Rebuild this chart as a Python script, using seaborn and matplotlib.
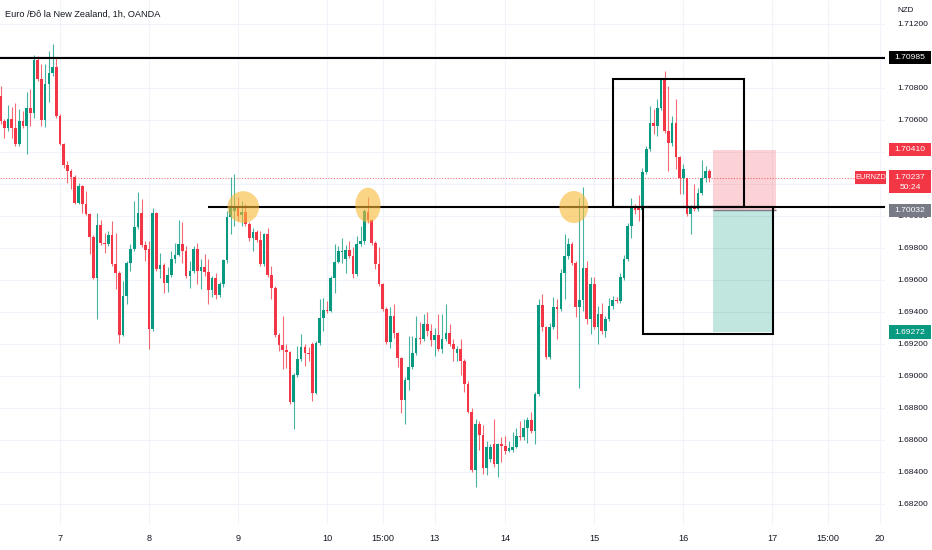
import matplotlib
matplotlib.use("Agg")
import matplotlib.pyplot as plt
from matplotlib.patches import Rectangle, Ellipse
from matplotlib.transforms import blended_transform_factory
import numpy as np
import pandas as pd
import seaborn as sns

# Bougies 1h EUR/NZD (ouverture, plus haut, plus bas, cloture)
opens = [
    1.70747, 1.70590, 1.70546, 1.70603, 1.70546, 1.70446, 1.70590, 1.70559, 1.70671, 1.70640,
    1.70972, 1.70853, 1.70596, 1.70822, 1.70890, 1.70928, 1.70621, 1.70446, 1.70315, 1.70277,
    1.70240, 1.70077, 1.70183, 1.70071, 1.70008, 1.69864, 1.69608, 1.69939, 1.69827, 1.69820,
    1.69877, 1.69695, 1.69639, 1.69251, 1.69495, 1.69701, 1.69789, 1.69927, 1.70014, 1.69814,
    1.69789, 1.69288, 1.70014, 1.69664, 1.69689, 1.69576, 1.69626, 1.69726, 1.69751, 1.69820,
    1.69776, 1.69620, 1.69651, 1.69789, 1.69651, 1.69676, 1.69645, 1.69532, 1.69608, 1.69501,
    1.69570, 1.69720, 1.69989, 1.70027, 1.70046, 1.70002, 1.70021, 1.69945, 1.69858, 1.69895,
    1.69845, 1.69695, 1.69883, 1.69626, 1.69545, 1.69251, 1.69188, 1.69157, 1.69144, 1.68832,
    1.69001, 1.69101, 1.69176, 1.69138, 1.69195, 1.68888, 1.69201, 1.69357, 1.69407, 1.69401,
    1.69608, 1.69708, 1.69770, 1.69726, 1.69783, 1.69745, 1.69633, 1.69820, 1.69839, 1.70021,
    1.69971, 1.69827, 1.69695, 1.69570, 1.69414, 1.69207, 1.69370, 1.69263, 1.69107, 1.68850,
    1.68975, 1.69051, 1.69138, 1.69232, 1.69226, 1.69320, 1.69276, 1.69220, 1.69251, 1.69163,
    1.69226, 1.69263, 1.69195, 1.69138, 1.69163, 1.69088, 1.68950, 1.68775, 1.68412, 1.68700,
    1.68631, 1.68419, 1.68481, 1.68569, 1.68444, 1.68569, 1.68562, 1.68531, 1.68537, 1.68556,
    1.68619, 1.68613, 1.68675, 1.68719, 1.68656, 1.68882, 1.69439, 1.69301, 1.69113, 1.69301,
    1.69426, 1.69414, 1.69639, 1.69745, 1.69820, 1.69701, 1.69426, 1.69470, 1.69670, 1.69351,
    1.69570, 1.69301, 1.69382, 1.69276, 1.69351, 1.69432, 1.69470, 1.69464, 1.69608, 1.69726,
    1.69933, 1.70052, 1.70046, 1.70033, 1.70271, 1.70415, 1.70578, 1.70559, 1.70671, 1.70847,
    1.70528, 1.70452, 1.70578, 1.70365, 1.70233, 1.70233, 1.70008, 1.70052, 1.70039, 1.70140,
    1.70233, 1.70277,
]
highs = [
    1.70809, 1.70603, 1.70690, 1.70678, 1.70703, 1.70665, 1.70653, 1.70772, 1.70790, 1.71003,
    1.70997, 1.70947, 1.70947, 1.71028, 1.71072, 1.70984, 1.70634, 1.70452, 1.70340, 1.70290,
    1.70252, 1.70202, 1.70190, 1.70152, 1.70014, 1.69877, 1.70014, 1.69971, 1.69889, 1.69902,
    1.69964, 1.69889, 1.69651, 1.69589, 1.69714, 1.69820, 1.70089, 1.70146, 1.70102, 1.69839,
    1.69839, 1.70046, 1.70021, 1.69764, 1.69701, 1.69676, 1.69776, 1.69827, 1.69971, 1.69958,
    1.69808, 1.69714, 1.69808, 1.69827, 1.69726, 1.69758, 1.69726, 1.69620, 1.69639, 1.69583,
    1.69726, 1.70027, 1.70240, 1.70258, 1.70114, 1.70089, 1.70071, 1.69958, 1.69920, 1.69908,
    1.69902, 1.69889, 1.69920, 1.69683, 1.69557, 1.69263, 1.69370, 1.69195, 1.69151, 1.69013,
    1.69182, 1.69257, 1.69195, 1.69176, 1.69207, 1.69213, 1.69476, 1.69482, 1.69464, 1.69620,
    1.69820, 1.69808, 1.69858, 1.69814, 1.69839, 1.69801, 1.69870, 1.69933, 1.70039, 1.70114,
    1.69977, 1.69839, 1.69801, 1.69576, 1.69426, 1.69426, 1.69445, 1.69270, 1.69113, 1.68988,
    1.69245, 1.69245, 1.69370, 1.69332, 1.69382, 1.69395, 1.69320, 1.69295, 1.69382, 1.69382,
    1.69445, 1.69320, 1.69226, 1.69182, 1.69226, 1.69101, 1.68963, 1.68794, 1.68731, 1.68713,
    1.68688, 1.68588, 1.68569, 1.68731, 1.68581, 1.68613, 1.68625, 1.68588, 1.68650, 1.68675,
    1.68713, 1.68731, 1.68738, 1.68775, 1.68900, 1.69476, 1.69507, 1.69307, 1.69326, 1.69489,
    1.69476, 1.69664, 1.69883, 1.69858, 1.69833, 1.69714, 1.70108, 1.70177, 1.69714, 1.69614,
    1.69614, 1.69432, 1.69451, 1.69370, 1.69482, 1.69495, 1.69489, 1.69639, 1.69751, 1.69952,
    1.70108, 1.70071, 1.70127, 1.70296, 1.70434, 1.70684, 1.70665, 1.70728, 1.70859, 1.70903,
    1.70809, 1.70621, 1.70728, 1.70371, 1.70321, 1.70233, 1.70064, 1.70196, 1.70171, 1.70346,
    1.70308, 1.70290,
]
lows = [
    1.70571, 1.70484, 1.70528, 1.70484, 1.70434, 1.70434, 1.70546, 1.70384, 1.70559, 1.70609,
    1.70840, 1.70559, 1.70553, 1.70709, 1.70872, 1.70609, 1.70440, 1.70296, 1.70202, 1.70165,
    1.70071, 1.70071, 1.70014, 1.70002, 1.69758, 1.69601, 1.69351, 1.69814, 1.69764, 1.69808,
    1.69683, 1.69539, 1.69201, 1.69245, 1.69445, 1.69651, 1.69776, 1.69914, 1.69801, 1.69714,
    1.69163, 1.69276, 1.69651, 1.69608, 1.69514, 1.69520, 1.69614, 1.69701, 1.69745, 1.69701,
    1.69608, 1.69545, 1.69639, 1.69570, 1.69539, 1.69620, 1.69445, 1.69489, 1.69476, 1.69489,
    1.69551, 1.69701, 1.69883, 1.69933, 1.69964, 1.69933, 1.69933, 1.69839, 1.69776, 1.69833,
    1.69683, 1.69683, 1.69614, 1.69476, 1.69238, 1.69151, 1.69038, 1.69044, 1.68819, 1.68663,
    1.68988, 1.69088, 1.69057, 1.69088, 1.68838, 1.68882, 1.69188, 1.69276, 1.69389, 1.69395,
    1.69514, 1.69701, 1.69701, 1.69639, 1.69733, 1.69608, 1.69620, 1.69808, 1.69820, 1.69952,
    1.69814, 1.69664, 1.69557, 1.69401, 1.69195, 1.69169, 1.69232, 1.69051, 1.68763, 1.68694,
    1.68907, 1.69038, 1.69126, 1.69195, 1.69213, 1.69245, 1.69182, 1.69119, 1.69151, 1.69138,
    1.69213, 1.69182, 1.69088, 1.69088, 1.69001, 1.68900, 1.68763, 1.68400, 1.68306, 1.68537,
    1.68387, 1.68381, 1.68462, 1.68431, 1.68368, 1.68462, 1.68512, 1.68519, 1.68525, 1.68544,
    1.68600, 1.68600, 1.68581, 1.68638, 1.68575, 1.68869, 1.69276, 1.69101, 1.69101, 1.69288,
    1.69226, 1.69401, 1.69476, 1.69726, 1.69689, 1.69363, 1.68919, 1.69401, 1.69320, 1.69257,
    1.69288, 1.69195, 1.69257, 1.69238, 1.69338, 1.69414, 1.69451, 1.69451, 1.69595, 1.69714,
    1.69858, 1.70008, 1.69964, 1.70027, 1.70258, 1.70402, 1.70509, 1.70496, 1.70659, 1.70515,
    1.70277, 1.70434, 1.70290, 1.70133, 1.70133, 1.69996, 1.69883, 1.70027, 1.70027, 1.70127,
    1.70208, 1.70208,
]
closes = [
    1.70590, 1.70546, 1.70603, 1.70546, 1.70446, 1.70590, 1.70559, 1.70671, 1.70640, 1.70972,
    1.70853, 1.70596, 1.70822, 1.70890, 1.70928, 1.70621, 1.70446, 1.70315, 1.70277, 1.70240,
    1.70077, 1.70183, 1.70071, 1.70008, 1.69864, 1.69608, 1.69939, 1.69827, 1.69820, 1.69877,
    1.69695, 1.69639, 1.69251, 1.69495, 1.69701, 1.69789, 1.69927, 1.70014, 1.69814, 1.69783,
    1.69288, 1.70014, 1.69664, 1.69689, 1.69576, 1.69626, 1.69726, 1.69751, 1.69820, 1.69776,
    1.69620, 1.69651, 1.69789, 1.69651, 1.69676, 1.69645, 1.69532, 1.69608, 1.69501, 1.69570,
    1.69720, 1.69989, 1.70046, 1.70046, 1.69996, 1.70021, 1.69945, 1.69858, 1.69895, 1.69845,
    1.69695, 1.69883, 1.69626, 1.69545, 1.69251, 1.69188, 1.69157, 1.69144, 1.68832, 1.69001,
    1.69101, 1.69176, 1.69138, 1.69132, 1.68888, 1.69201, 1.69357, 1.69407, 1.69401, 1.69608,
    1.69708, 1.69776, 1.69776, 1.69783, 1.69745, 1.69633, 1.69820, 1.69839, 1.70027, 1.69971,
    1.69827, 1.69695, 1.69570, 1.69414, 1.69207, 1.69370, 1.69263, 1.69107, 1.68850, 1.68975,
    1.69051, 1.69138, 1.69232, 1.69226, 1.69320, 1.69276, 1.69220, 1.69251, 1.69163, 1.69226,
    1.69263, 1.69195, 1.69163, 1.69163, 1.69088, 1.68950, 1.68775, 1.68412, 1.68700, 1.68631,
    1.68419, 1.68556, 1.68556, 1.68444, 1.68569, 1.68562, 1.68531, 1.68544, 1.68556, 1.68619,
    1.68613, 1.68675, 1.68719, 1.68656, 1.68882, 1.69439, 1.69301, 1.69113, 1.69301, 1.69426,
    1.69414, 1.69639, 1.69745, 1.69820, 1.69701, 1.69426, 1.69470, 1.69670, 1.69351, 1.69570,
    1.69301, 1.69382, 1.69276, 1.69351, 1.69432, 1.69470, 1.69464, 1.69614, 1.69726, 1.69933,
    1.70052, 1.70033, 1.70033, 1.70271, 1.70415, 1.70578, 1.70559, 1.70671, 1.70847, 1.70528,
    1.70452, 1.70578, 1.70365, 1.70233, 1.70290, 1.70008, 1.70052, 1.70039, 1.70140, 1.70233,
    1.70277, 1.70237,
]

# Axe du temps (numero de bougie) et libelles
tick_pos = [17, 41, 65, 89, 104, 118, 137, 161, 185, 209, 224, 238]
tick_labels = ["7", "8", "9", "10", "15:00", "13", "14", "15", "16", "17", "15:00", "20"]
price_ticks = [1.682, 1.684, 1.686, 1.688, 1.690, 1.692, 1.694, 1.696, 1.698, 1.700,
               1.702, 1.704, 1.706, 1.708, 1.710, 1.712]
# graduations masquees par les etiquettes colorees
ticks_caches = [1.702, 1.704, 1.710]

# Niveaux traces a la main
resistance = 1.70985
support = 1.70055
dernier_prix = 1.70237
stop_loss = 1.70410
entree = 1.70032
objectif = 1.69272
# Zones dessinees (debut, fin en bougies ; bas, haut en prix)
zone_haut = (165.97, 201.4, 1.70055, 1.70853)
zone_bas = (174.1, 209.3, 1.69259, 1.70055)
position = (193.1, 210.0)
# Surlignages jaunes (bougie, prix, largeur, hauteur)
surlignages = [(66.4, 1.70053, 8.5, 0.00198), (100.0, 1.70065, 6.8, 0.00218), (155.5, 1.70053, 7.8, 0.00200)]

VERT = "#089981"
ROUGE = "#F23645"
TEXTE = "#131722"

sns.set_theme(style="white")
plt.rcParams['font.family'] = ['Liberation Sans', 'DejaVu Sans']

df = pd.DataFrame({"open": opens, "high": highs, "low": lows, "close": closes})
df["x"] = np.arange(1, len(df) + 1)
df["couleur"] = np.where(df["close"] >= df["open"], VERT, ROUGE)

W, H = 932, 550
AX_W, AX_H = 885, 524
fig = plt.figure(figsize=(W / 100, H / 100), dpi=100)
ax = fig.add_axes([0, 1 - AX_H / H, AX_W / W, AX_H / H])
y_bas, y_haut = 1.68072, 1.71347
ax.set_xlim(0.83, 239.37)
ax.set_ylim(y_bas, y_haut)
px = (y_haut - y_bas) / AX_H

# Bougies
ax.vlines(df["x"], df["low"], df["high"], colors=df["couleur"], lw=0.8, alpha=0.75, zorder=2)
corps = (df["close"] - df["open"]).abs().clip(lower=px * 0.9)
ax.bar(df["x"], corps, bottom=df[["open", "close"]].min(axis=1), width=0.72,
       color=df["couleur"], linewidth=0, zorder=3)

# Lignes horizontales
ax.axhline(resistance, color="black", lw=1.5, zorder=4)
ax.hlines(support, 56.9, 239.37, color="black", lw=1.5, zorder=4)
ax.axhline(dernier_prix, xmax=856 / AX_W, color=ROUGE, lw=0.8, ls=(0, (1, 1.5)), alpha=0.7, zorder=1)

# Position acheteuse
ax.add_patch(Rectangle((position[0], entree), position[1] - position[0], stop_loss - entree,
                       facecolor=ROUGE, alpha=0.22, edgecolor="none", zorder=2))
ax.add_patch(Rectangle((position[0], objectif), position[1] - position[0] - 1, entree - objectif,
                       facecolor=VERT, alpha=0.25, edgecolor="none", zorder=2))
ax.hlines(entree, position[0], position[1], color="#787B86", lw=1, zorder=3)

# Boites
for x0, x1, b, h in [zone_haut, zone_bas]:
    ax.add_patch(Rectangle((x0, b), x1 - x0, h - b, fill=False, edgecolor="black", lw=1.5, zorder=5))

for cx, cy, w, h in surlignages:
    ax.add_patch(Ellipse((cx, cy), w, h, facecolor="#F9B936", alpha=0.6, edgecolor="none", zorder=6))

# Axes
ax.set_xticks(tick_pos, tick_labels)
ax.set_yticks(price_ticks, ["" if p in ticks_caches else f"{p:.5f}" for p in price_ticks])
ax.yaxis.tick_right()
ax.tick_params(axis="x", length=0, pad=7.2, labelsize=6.6, colors=TEXTE)
ax.tick_params(axis="y", length=0, pad=8.6, labelsize=6.1, colors=TEXTE)
for lab in ax.get_yticklabels():
    lab.set_horizontalalignment("left")
ax.grid(True, color="#F0F3FA", lw=0.8)
ax.set_axisbelow(True)
for s in ax.spines.values():
    s.set_visible(False)

ax.text(5 / AX_W, 1 - 14 / AX_H, "Euro /Đô la New Zealand, 1h, OANDA", transform=ax.transAxes,
        fontsize=6.6, color=TEXTE, va="center", ha="left")
fig.text(897 / W, 1 - 10 / H, "NZD", fontsize=5.8, color=TEXTE, va="center", ha="left")

# Etiquettes de prix a droite
trans = blended_transform_factory(ax.transAxes, ax.transData)


def etiquette(prix, lignes, couleur, x0=889, largeur=42, dessus=6.5, dessous=6.5, taille=6.1):
    ax.add_patch(Rectangle((x0 / AX_W, prix - dessous * px), largeur / AX_W, (dessus + dessous) * px,
                           transform=trans, facecolor=couleur, edgecolor="none", clip_on=False, zorder=8))
    for i, t in enumerate(lignes):
        ax.text((x0 + largeur / 2) / AX_W, prix - i * 10 * px, t, transform=trans, color="white",
                ha="center", va="center", fontsize=taille, clip_on=False, zorder=9)


etiquette(resistance, [f"{resistance:.5f}"], "black")
etiquette(stop_loss, [f"{stop_loss:.5f}"], ROUGE)
etiquette(dernier_prix, [f"{dernier_prix:.5f}", "50:24"], ROUGE, dessus=7.6, dessous=15.4)
etiquette(entree, [f"{entree:.5f}"], "#787B86")
etiquette(objectif, [f"{objectif:.5f}"], VERT)
etiquette(dernier_prix, ["EURNZD"], ROUGE, x0=855, largeur=31, taille=5.3)

fig.savefig("out.png", dpi=100)
